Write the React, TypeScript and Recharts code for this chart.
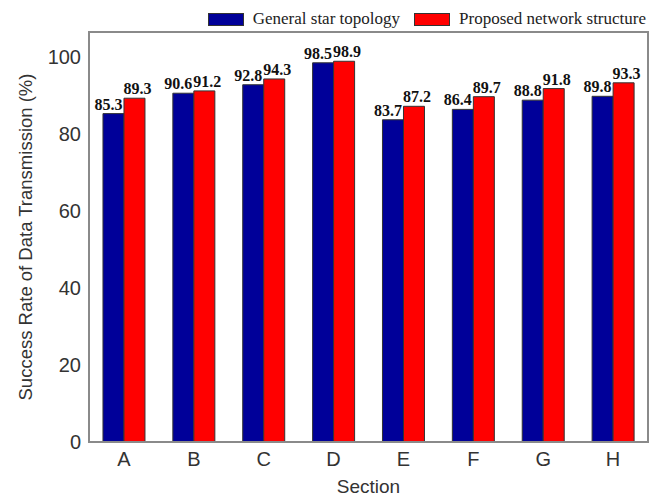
import { BarChart, Bar, XAxis, YAxis, LabelList, ReferenceArea } from 'recharts'

const sections = ['A', 'B', 'C', 'D', 'E', 'F', 'G', 'H']
const generalStar = [85.3, 90.6, 92.8, 98.5, 83.7, 86.4, 88.8, 89.8]
const proposed = [89.3, 91.2, 94.3, 98.9, 87.2, 89.7, 91.8, 93.3]
const yTicks = [0, 20, 40, 60, 80, 100]
const seriesNames = ['General star topology', 'Proposed network structure']

const BLUE = '#000099'
const RED = '#ff0000'
const FRAME = '#8a8a8a'
const Y_MAX = 106.5

const data = sections.map((s, i) => ({ section: s, general: generalStar[i], proposed: proposed[i] }))

const tickStyle = { fill: '#333', fontSize: 20, fontFamily: 'Liberation Sans, Arial, sans-serif' }
const valueStyle = { fill: '#111', fontSize: 16, fontWeight: 700, fontFamily: 'Liberation Serif, Times New Roman, serif' }

function YLabel({ viewBox }: any) {
  const cx = viewBox.x + 25
  const cy = viewBox.y + viewBox.height / 2
  return (
    <text x={cx} y={cy} transform={`rotate(-90 ${cx} ${cy})`} textAnchor="middle" dominantBaseline="central"
      style={{ fill: '#333', fontSize: 18.5, fontFamily: 'Liberation Sans, Arial, sans-serif' }}>
      Success Rate of Data Transmission (%)
    </text>
  )
}

export default function App() {
  return (
    <div style={{ position: 'absolute', left: 0, top: 0, width: 659, height: 497, background: '#fff' }}>
      <style>{'body{margin:0}'}</style>
      {/* legend */}
      <div style={{
        position: 'absolute', top: 9, right: 13, display: 'flex', alignItems: 'center',
        fontFamily: 'Liberation Serif, Times New Roman, serif', fontSize: 17, color: '#222',
      }}>
        {[BLUE, RED].map((c, i) => (
          <div key={c} style={{ display: 'flex', alignItems: 'center', gap: 9, marginLeft: i ? 14 : 0 }}>
            <span style={{ width: 34, height: 11, background: c, border: '1px solid #333', display: 'inline-block' }} />
            <span>{seriesNames[i]}</span>
          </div>
        ))}
      </div>

      <BarChart width={659} height={497} data={data}
        margin={{ top: 32, right: 11, bottom: 0, left: 0 }}
        barCategoryGap="20%" barGap={0}>
        <XAxis dataKey="section" tick={tickStyle} tickLine={false} tickMargin={4} height={55}
          axisLine={{ stroke: FRAME, strokeWidth: 2 }}
          label={{ value: 'Section', position: 'insideBottom', offset: 4, style: { ...tickStyle, fontSize: 19 } }} />
        <YAxis domain={[0, Y_MAX]} ticks={yTicks} tick={tickStyle} tickLine={false} width={89}
          axisLine={{ stroke: FRAME, strokeWidth: 2 }} label={<YLabel />} />
        <ReferenceArea y1={0} y2={Y_MAX} fill="none" stroke={FRAME} strokeWidth={2} ifOverflow="visible" />
        <Bar dataKey="general" name={seriesNames[0]} fill={BLUE} stroke="#333" strokeWidth={1} isAnimationActive={false}>
          <LabelList dataKey="general" position="top" offset={4} dx={-5} style={valueStyle} />
        </Bar>
        <Bar dataKey="proposed" name={seriesNames[1]} fill={RED} stroke="#333" strokeWidth={1} isAnimationActive={false}>
          <LabelList dataKey="proposed" position="top" offset={4} dx={3} style={valueStyle} />
        </Bar>
      </BarChart>
    </div>
  )
}
